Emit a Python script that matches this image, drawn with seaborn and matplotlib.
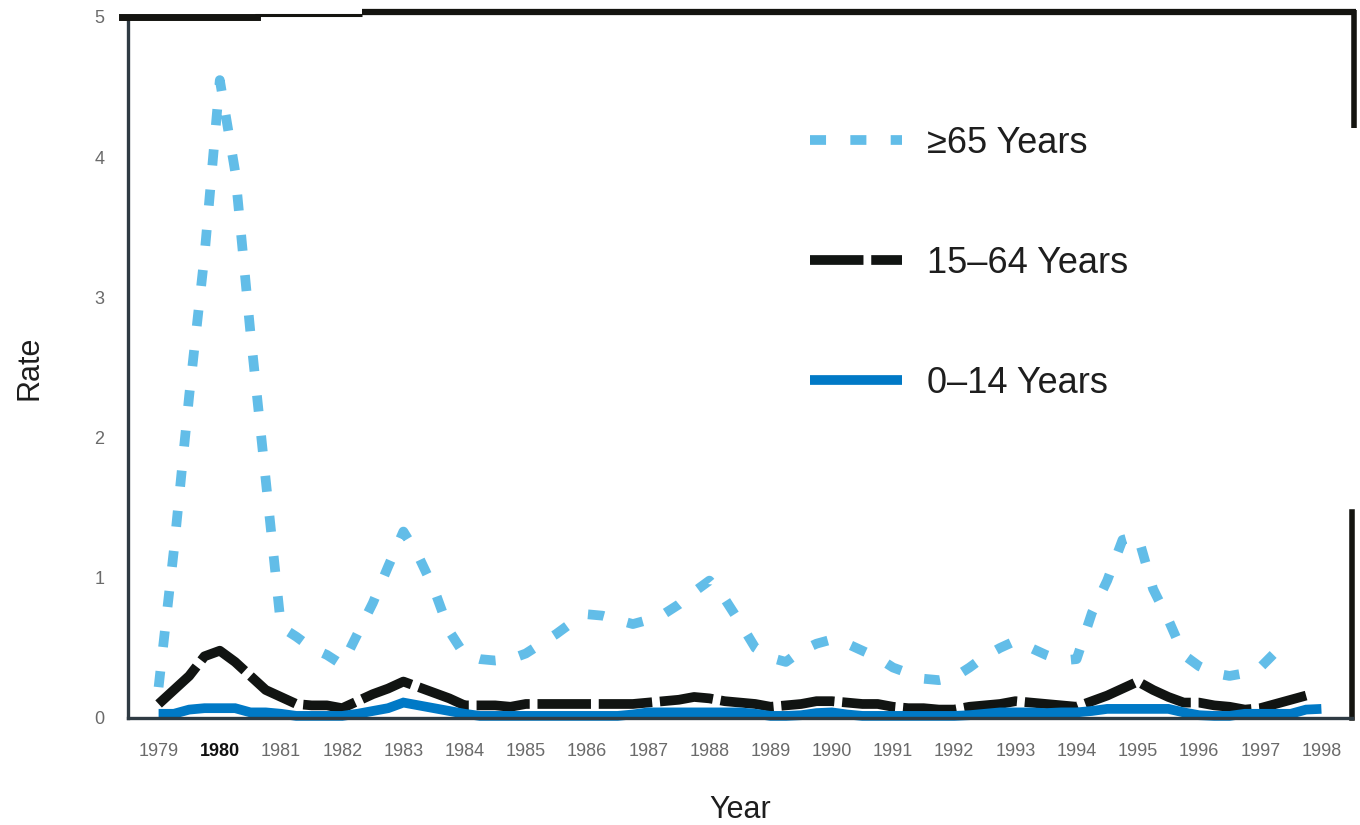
import matplotlib.pyplot as plt
import seaborn as sns
import numpy as np
import pandas as pd
from matplotlib.lines import Line2D

# quarterly time points, 1979.00 .. 1998.00
t = np.arange(1979, 1998.01, 0.25)

# >=65 years
rate_65 = [
    0.22, 1.20, 2.30, 3.30,
    4.55, 3.90, 2.75, 1.70,
    0.65, 0.58, 0.50, 0.45,
    0.38, 0.60, 0.82, 1.08,
    1.33, 1.15, 0.92, 0.62,
    0.45, 0.42, 0.41, 0.42,
    0.46, 0.53, 0.60, 0.68,
    0.74, 0.73, 0.70, 0.67,
    0.70, 0.74, 0.81, 0.90,
    0.98, 0.85, 0.68, 0.50,
    0.43, 0.40, 0.48, 0.53,
    0.56, 0.53, 0.48, 0.43,
    0.36, 0.32, 0.28, 0.27,
    0.29, 0.36, 0.44, 0.50,
    0.55, 0.50, 0.45, 0.41,
    0.42, 0.75, 0.98, 1.27,
    1.30, 0.92, 0.70, 0.45,
    0.37, 0.32, 0.30, 0.32,
    0.36, 0.47, 0.52, np.nan,
    np.nan,
]

# 15-64 years
rate_15_64 = [
    0.10, 0.20, 0.30, 0.44,
    0.48, 0.40, 0.30, 0.20,
    0.15, 0.10, 0.09, 0.09,
    0.07, 0.12, 0.17, 0.21,
    0.26, 0.22, 0.18, 0.14,
    0.09, 0.09, 0.09, 0.08,
    0.10, 0.10, 0.10, 0.10,
    0.10, 0.10, 0.10, 0.10,
    0.11, 0.12, 0.13, 0.15,
    0.14, 0.12, 0.11, 0.10,
    0.08, 0.09, 0.10, 0.12,
    0.12, 0.11, 0.10, 0.10,
    0.08, 0.07, 0.07, 0.06,
    0.06, 0.08, 0.09, 0.10,
    0.12, 0.11, 0.10, 0.09,
    0.08, 0.12, 0.16, 0.21,
    0.26, 0.20, 0.15, 0.11,
    0.11, 0.09, 0.08, 0.06,
    0.07, 0.10, 0.13, 0.16,
    np.nan,
]

# 0-14 years
rate_0_14 = [
    0.03, 0.03, 0.06, 0.07,
    0.07, 0.07, 0.04, 0.04,
    0.03, 0.015, 0.015, 0.015,
    0.015, 0.03, 0.05, 0.07,
    0.11, 0.09, 0.07, 0.05,
    0.03, 0.015, 0.015, 0.015,
    0.015, 0.015, 0.015, 0.015,
    0.015, 0.015, 0.015, 0.025,
    0.04, 0.04, 0.04, 0.04,
    0.04, 0.04, 0.04, 0.03,
    0.015, 0.015, 0.02, 0.035,
    0.04, 0.025, 0.015, 0.015,
    0.015, 0.015, 0.015, 0.015,
    0.015, 0.02, 0.03, 0.04,
    0.04, 0.04, 0.035, 0.04,
    0.04, 0.05, 0.065, 0.065,
    0.065, 0.065, 0.065, 0.04,
    0.02, 0.015, 0.015, 0.03,
    0.03, 0.03, 0.03, 0.06,
    0.065,
]

year_ticks = list(range(1979, 1999))
rate_ticks = [0, 0.5, 1, 1.5, 2, 2.5, 3, 3.5, 4, 4.5, 5]
rate_labels = ["0", "", "1", "", "2", "", "3", "", "4", "", "5"]

sns.set_style("white")
plt.rcParams["font.family"] = ["Liberation Sans", "DejaVu Sans"]

W, H = 1360, 825
fig = plt.figure(figsize=(W / 100, H / 100), dpi=100)
ax = fig.add_axes([128 / W, (H - 718) / H, (1352 - 128) / W, (718 - 17) / H])

c_old = "#62bde8"
c_mid = "#111412"
c_young = "#0079c6"

line_kw = dict(lw=7, clip_on=False, solid_capstyle="butt", dash_capstyle="butt",
               solid_joinstyle="miter")
sns.lineplot(x=t, y=rate_65, ax=ax, color=c_old,
             linestyle=(0, (1.65, 2.5)), label="≥65 Years", **line_kw)
sns.lineplot(x=t, y=rate_15_64, ax=ax, color=c_mid,
             linestyle=(0, (5.5, 0.8)), label="15–64 Years", **line_kw)
sns.lineplot(x=t, y=rate_0_14, ax=ax, color=c_young,
             label="0–14 Years", **line_kw)

ax.set_xlim(1978.5, 1998.5)
ax.set_ylim(0, 5)

ax.set_xticks(year_ticks)
ax.set_xticklabels([str(y) for y in year_ticks])
ax.set_yticks(rate_ticks)
ax.set_yticklabels(rate_labels)

ax.tick_params(axis="x", direction="out", length=8, width=2.2, color="#2f3b43",
               pad=10, labelsize=13, labelcolor="#6a6a6a")
ax.tick_params(axis="y", direction="out", length=7, width=2.2, color="#2f3b43",
               pad=10, labelsize=13, labelcolor="#6a6a6a")
for lab in ax.get_xticklabels():
    if lab.get_text() == "1980":
        lab.set_color("#111111")
        lab.set_fontweight("bold")

for side in ["left", "bottom"]:
    ax.spines[side].set_color("#2f3b43")
    ax.spines[side].set_linewidth(2.4)
ax.spines["top"].set_color("#141410")
ax.spines["top"].set_linewidth(5)
ax.spines["top"].set_bounds(1978.4, 1980.6)
ax.spines["right"].set_color("#141410")
ax.spines["right"].set_linewidth(4)
ax.spines["right"].set_bounds(0, 1.47)

# rough scanned frame pieces along the top and right
def fig_line(x0, y0, x1, y1, lw):
    fig.add_artist(Line2D([x0 / W, x1 / W], [1 - y0 / H, 1 - y1 / H],
                          color="#141410", lw=lw, solid_capstyle="butt"))

fig_line(255, 15, 362, 15, 2.2)
fig_line(362, 12, 1356, 12, 4.5)
fig_line(1354, 10, 1354, 128, 4)

ax.set_xlabel("Year", fontsize=22, color="#1e1e1e", labelpad=25)
ax.set_ylabel("Rate", fontsize=22, color="#1e1e1e", labelpad=36)

leg = ax.legend(loc="upper left", bbox_to_anchor=(810 / W, 1 - 126 / H),
                bbox_transform=fig.transFigure, frameon=False, fontsize=26,
                handlelength=2.55, handletextpad=0.7, labelspacing=2.35,
                borderpad=0, borderaxespad=0)
for txt in leg.get_texts():
    txt.set_color("#1e1e1e")

fig.savefig("out.png", dpi=100)
